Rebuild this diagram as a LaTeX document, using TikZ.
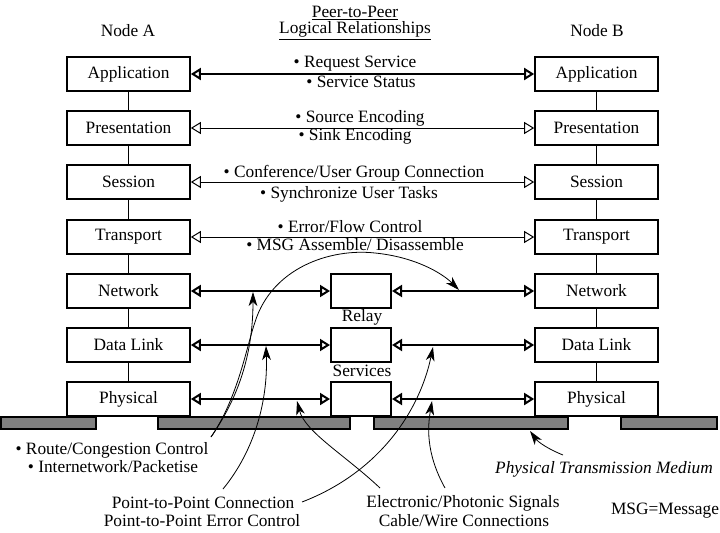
\documentclass[tikz,border=0pt]{standalone}
\usepackage{fontspec}
\setmainfont{Liberation Serif}
\usetikzlibrary{arrows.meta}
\begin{document}
\begin{tikzpicture}[x=0.75pt,y=-0.75pt,
  font=\fontsize{13}{15}\selectfont,
  layer/.style={draw, line width=1.5pt, fill=white, minimum width=92pt, minimum height=25.5pt, inner sep=0pt},
  relaybox/.style={draw, line width=1.5pt, fill=white, minimum width=45pt, minimum height=26pt, inner sep=0pt},
  peerthin/.style={line width=0.75pt, {Triangle[open,length=7.5pt,width=9pt]}-{Triangle[open,length=7.5pt,width=9pt]}},
  peerthick/.style={line width=1.5pt, {Triangle[open,length=7.5pt,width=9pt]}-{Triangle[open,length=7.5pt,width=9pt]}},
  callout/.style={line width=0.6pt, -{Stealth[length=10.5pt,width=6.5pt,inset=3pt]}},
  medium/.style={draw, line width=1.5pt, fill=black!50},
  stack/.style={line width=0.75pt},
  txt/.style={inner sep=0pt}]
\useasboundingbox (0,0) rectangle (720,532);

% transmission medium
\draw[medium] (1,417) rectangle (96,429);
\draw[medium] (158,417) rectangle (350,429);
\draw[medium] (374,417) rectangle (568,429);
\draw[medium] (621,417) rectangle (717,429);

% headings
\node[txt] (nodeA) at (128,31) {Node A};
\node[txt] (nodeB) at (597,31) {Node B};
\node[txt] (title1) at (355,13) {\underline{Peer-to-Peer}};
\node[txt] (title2) at (355,31) {\underline{Logical Relationships}};

% layer stacks
\foreach \n/\y/\t in {1/74/Application,2/128/Presentation,3/182/Session,4/237/Transport,5/291/Network,6/345/Data Link,7/399/Physical}{
  \node[layer] (A\n) at (128.5,\y) {\t};
  \node[layer] (B\n) at (596.5,\y) {\t};
}
\foreach \a/\b in {1/2,2/3,3/4,4/5,5/6,6/7}{
  \draw[stack] (A\a.south) -- (A\b.north);
  \draw[stack] (B\a.south) -- (B\b.north);
}

% relay boxes
\node[relaybox] (R5) at (361,291) {};
\node[relaybox] (R6) at (361,345) {};
\node[relaybox] (R7) at (361,399) {};
\node[txt] (relay) at (362,317) {Relay};
\node[txt] (services) at (362,371) {Services};

% peer relationships
\draw[peerthick] (A1.east) -- (B1.west);
\draw[peerthin] (A2.east) -- (B2.west);
\draw[peerthin] (A3.east) -- (B3.west);
\draw[peerthin] (A4.east) -- (B4.west);
\foreach \n in {5,6,7}{
  \draw[peerthick] (A\n.east) -- (R\n.west);
  \draw[peerthick] (R\n.east) -- (B\n.west);
}

\node[txt] (t1a) at (355,64) {• Request Service};
\node[txt] (t1b) at (361,82) {• Service Status};
\node[txt] (t2a) at (360,118) {• Source Encoding};
\node[txt] (t2b) at (355,136) {• Sink Encoding};
\node[txt] (t3a) at (354,173) {• Conference/User Group Connection};
\node[txt] (t3b) at (349,194) {• Synchronize User Tasks};
\node[txt] (t4a) at (350,227) {• Error/Flow Control};
\node[txt] (t4b) at (355,245) {• MSG Assemble/ Disassemble};

% bottom labels
\node[txt] (route) at (112,450) {• Route/Congestion Control};
\node[txt] (inet) at (113,467) {• Internetwork/Packetise};
\node[txt] (p2pa) at (203,503) {Point-to-Point Connection};
\node[txt] (p2pb) at (202,521) {Point-to-Point Error Control};
\node[txt] (elec) at (463,503) {Electronic/Photonic Signals};
\node[txt] (cable) at (464,521) {Cable/Wire Connections};
\node[txt] (ptm) at (604,469) {\itshape Physical Transmission Medium};
\node[txt] (msg) at (665,511) {MSG=Message};

% callout end points
\coordinate (routeS) at (211,437);
\coordinate (netL) at (253,292);
\coordinate (netR) at (459,290);
\coordinate (p2pS1) at (223,489);
\coordinate (p2pS2) at (302,502);
\coordinate (dlL) at (266,346);
\coordinate (dlR) at (433,347);
\coordinate (elS1) at (380,488);
\coordinate (elS2) at (445,488);
\coordinate (phL) at (297,401);
\coordinate (phR) at (432,401);
\coordinate (ptmS) at (563,455);
\coordinate (medE) at (530,431);

\draw[callout] (routeS) .. controls (238,398) and (253,355) .. (netL);
\draw[callout] (routeS) .. controls (238,398) and (247,345) .. (255,322)
   .. controls (272,268) and (330,248) .. (375,253)
   .. controls (415,257) and (442,273) .. (netR);
\draw[callout] (p2pS1) .. controls (255,450) and (268,400) .. (dlL);
\draw[callout] (p2pS2) .. controls (380,472) and (420,410) .. (dlR);
\draw[callout] (elS1) .. controls (345,455) and (305,432) .. (phL);
\draw[callout] (elS2) .. controls (425,452) and (428,425) .. (phR);
\draw[callout] (ptmS) .. controls (548,449) and (538,442) .. (medE);
\end{tikzpicture}
\end{document}
